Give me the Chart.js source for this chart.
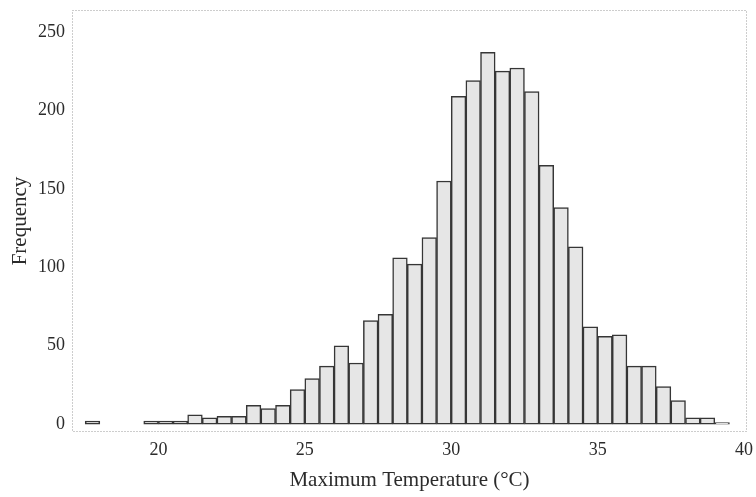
<!DOCTYPE html>
<html>
<head>
<meta charset="utf-8">
<script src="https://cdn.jsdelivr.net/npm/chart.js@4.4.1/dist/chart.umd.min.js"></script>
<style>
    html, body { margin: 0; padding: 0; background: #fff; }
    #wrap { width: 756px; height: 497px; }
</style>
</head>
<body>
<div id="wrap"><canvas id="histogram"></canvas></div>
<script>
// bin left edges (width 0.5 °C) and counts
const binStarts = [17.5, 18, 18.5, 19, 19.5, 20, 20.5, 21, 21.5, 22, 22.5, 23, 23.5, 24, 24.5,
    25, 25.5, 26, 26.5, 27, 27.5, 28, 28.5, 29, 29.5, 30, 30.5, 31, 31.5, 32, 32.5,
    33, 33.5, 34, 34.5, 35, 35.5, 36, 36.5, 37, 37.5, 38, 38.5, 39];
const frequencies = [2, 0, 0, 0, 2, 2, 2, 6, 4, 5, 5, 12, 10, 12, 22,
    29, 37, 50, 39, 66, 70, 106, 102, 119, 155, 209, 219, 237, 225, 227, 212,
    165, 138, 113, 62, 56, 57, 37, 37, 24, 15, 4, 4, 1];
const binWidth = 0.5;
const xTickValues = [20, 25, 30, 35, 40];
const yTickValues = [0, 50, 100, 150, 200, 250];

const serif = '"Liberation Serif", "Times New Roman", serif';
const textColor = '#2b2b2b';

// dotted frame round the plot area
const framePlugin = {
    id: 'frame',
    beforeDatasetsDraw(chart) {
        const {ctx, chartArea} = chart;
        ctx.save();
        ctx.strokeStyle = '#9a9a9a';
        ctx.lineWidth = 1;
        ctx.setLineDash([1, 2]);
        ctx.strokeRect(chartArea.left + 0.5, chartArea.top + 0.5,
            chartArea.right - chartArea.left - 1, chartArea.bottom - chartArea.top - 1);
        ctx.restore();
    }
};

const points = binStarts.map((start, i) => ({x: start + binWidth / 2, y: frequencies[i]}));

new Chart(document.getElementById('histogram'), {
    type: 'bar',
    data: {
        datasets: [{
            data: points,
            backgroundColor: '#e6e6e6',
            borderColor: '#363636',
            borderWidth: 1.5,
            borderSkipped: false,
            barPercentage: 1,
            categoryPercentage: 1,
        }]
    },
    options: {
        responsive: true,
        maintainAspectRatio: false,
        animation: false,
        layout: {
            padding: {top: 10, right: 9, left: 0, bottom: 0}
        },
        plugins: {
            legend: {display: false},
            tooltip: {enabled: false}
        },
        scales: {
            x: {
                type: 'linear',
                offset: false,
                min: 17.05,
                max: 40.1,
                grid: {display: false, drawTicks: false},
                border: {display: false},
                afterBuildTicks: scale => {
                    scale.ticks = xTickValues.map(v => ({value: v}));
                },
                afterFit: scale => {
                    scale.height = 65;
                    scale.paddingLeft = 0;
                    scale.paddingRight = 0;
                },
                ticks: {
                    color: textColor,
                    padding: 7,
                    maxRotation: 0,
                    font: {family: serif, size: 18}
                },
                title: {
                    display: true,
                    text: 'Maximum Temperature (°C)',
                    color: textColor,
                    padding: {top: 0, bottom: 4},
                    font: {family: serif, size: 21}
                }
            },
            y: {
                min: -5,
                max: 264,
                grid: {display: false, drawTicks: false},
                border: {display: false},
                afterBuildTicks: scale => {
                    scale.ticks = yTickValues.map(v => ({value: v}));
                },
                afterFit: scale => {
                    scale.width = 72;
                    scale.paddingTop = 0;
                    scale.paddingBottom = 0;
                },
                ticks: {
                    color: textColor,
                    padding: 7,
                    font: {family: serif, size: 18}
                },
                title: {
                    display: true,
                    text: 'Frequency',
                    color: textColor,
                    padding: {top: 8, bottom: 0},
                    font: {family: serif, size: 21}
                }
            }
        }
    },
    plugins: [framePlugin]
});
</script>
</body>
</html>
